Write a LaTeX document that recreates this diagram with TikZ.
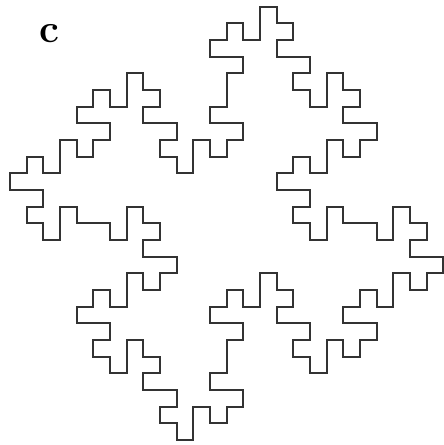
\documentclass[tikz,border=0pt]{standalone}
\begin{document}
\begin{tikzpicture}[x=0.5cm,y=-0.5cm,
    fractal/.style={line width=1.5pt,black!80,line cap=rect,line join=miter}]
        \useasboundingbox (-0.6,-0.4) rectangle (25.98,26.3);

            %label
            \node (lbl) at (2.34,1.64) {\fontsize{34}{40}\selectfont\bfseries c};

            %curva: un quarto, ruotato 4 volte attorno al centro
            \foreach \r in {0,-90,-180,-270}{
            \draw[fractal,rotate around={\r:(13,13)}] (0,10)--(1,10)--(1,9)--(2,9)--(2,10)--(3,10)--(3,8)--(4,8)--(4,9)--(5,9)--(5,8)--(6,8)--(6,7)--(4,7)--(4,6)--(5,6)--(5,5)--(6,5)--(6,6)--(7,6)--(7,4)--(8,4)--(8,5)--(9,5)--(9,6)--(8,6)--(8,7)--(10,7)--(10,8)--(9,8)--(9,9)--(10,9)--(10,10)--(11,10)--(11,8)--(12,8)--(12,9)--(13,9)--(13,8)--(14,8)--(14,7)--(12,7)--(12,6)--(13,6)--(13,4)--(14,4)--(14,3)--(12,3)--(12,2)--(13,2)--(13,1)--(14,1)--(14,2)--(15,2)--(15,0)--(16,0);
            }
\end{tikzpicture}
\end{document}
